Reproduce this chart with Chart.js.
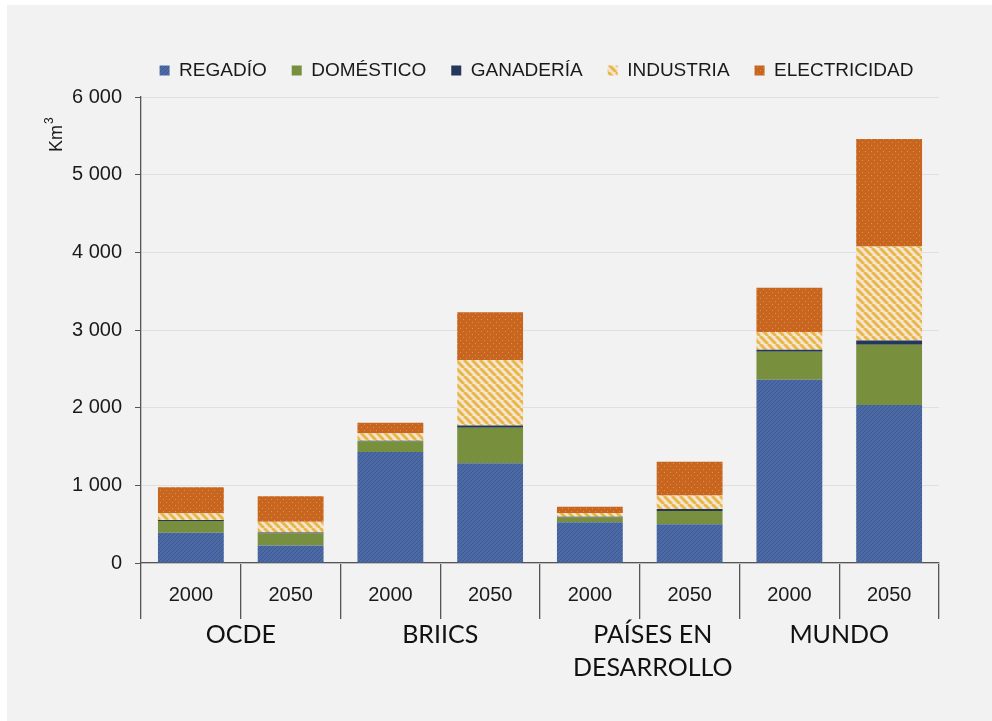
<!DOCTYPE html>
<html lang="es">
<head>
<meta charset="utf-8">
<title>Demanda de agua por sector</title>
<script src="https://cdn.jsdelivr.net/npm/chart.js@4.4.1/dist/chart.umd.min.js"></script>
<style>
  html, body { margin: 0; padding: 0; background: #fff; }
  canvas { display: block; }
</style>
</head>
<body>
<canvas id="waterChart" width="992" height="721"></canvas>
<script>
// years under each bar, regions grouping each pair of bars
const years = ["2000", "2050", "2000", "2050", "2000", "2050", "2000", "2050"];
const regions = ["OCDE", "BRIICS", ["PAÍSES EN", "DESARROLLO"], "MUNDO"];

// water demand, km3
const regadio     = [390, 225, 1430, 1285, 525, 500, 2360, 2035];
const domestico   = [150, 155, 135, 455, 60, 170, 360, 775];
const ganaderia   = [15, 12, 10, 30, 10, 25, 25, 55];
const industria   = [85, 138, 95, 845, 50, 175, 230, 1210];
const electricidad = [335, 330, 135, 615, 80, 435, 570, 1385];

const yTicks = [0, 1000, 2000, 3000, 4000, 5000, 6000];

Chart.defaults.font.family = "'Liberation Sans', Arial, sans-serif";
Chart.defaults.color = "#1a1a1a";

const canvas = document.getElementById("waterChart");
const ctx = canvas.getContext("2d");

function makePattern(size, draw) {
    const tile = document.createElement("canvas");
    tile.width = tile.height = size;
    draw(tile.getContext("2d"), size);
    return ctx.createPattern(tile, "repeat");
}

// fine diagonal hatch on blue
const bluePattern = makePattern(4, (g, s) => {
    g.fillStyle = "#4c6ba6";
    g.fillRect(0, 0, s, s);
    g.strokeStyle = "rgba(35, 55, 105, 0.35)";
    g.lineWidth = 1;
    g.beginPath();
    for (const k of [-s, 0, s]) {
        g.moveTo(k, s);
        g.lineTo(k + s, 0);
    }
    g.stroke();
});

// light beige with gold stripes
const stripePattern = makePattern(8, (g, s) => {
    g.fillStyle = "#f3e5d1";
    g.fillRect(0, 0, s, s);
    g.strokeStyle = "#e8b748";
    g.lineWidth = 3;
    g.beginPath();
    for (const k of [-s, 0, s]) {
        g.moveTo(k, 0);
        g.lineTo(k + s, s);
    }
    g.stroke();
});

// orange with small light dots
const dotPattern = makePattern(6, (g, s) => {
    g.fillStyle = "#c8651e";
    g.fillRect(0, 0, s, s);
    g.fillStyle = "rgba(240, 170, 110, 0.6)";
    g.fillRect(1, 1, 1, 1);
    g.fillRect(4, 4, 1, 1);
});

const thousands = v => String(v).replace(/\B(?=(\d{3})+(?!\d))/g, " ");

const background = {
    id: "background",
    beforeDraw(chart) {
        const c = chart.ctx;
        c.save();
        c.fillStyle = "#ffffff";
        c.fillRect(0, 0, chart.width, chart.height);
        c.fillStyle = "#f2f2f2";
        c.fillRect(7, 5, chart.width - 7, chart.height - 5);
        c.restore();
    }
};

// fixed legend band above the plot, centred a little right of the canvas middle
const legendBand = {
    id: "legendBand",
    beforeInit(chart) {
        const fit = chart.legend.fit;
        chart.legend.fit = function () {
            fit.call(this);
            this.height = 61;
        };
    },
    afterLayout(chart) {
        chart.legend.left = 134;
        chart.legend.right = chart.chartArea.right;
    }
};

const extraLabels = {
    id: "extraLabels",
    afterDraw(chart) {
        const c = chart.ctx;
        const x = chart.scales.x;
        const area = chart.chartArea;
        const nudge = { 2: 13 };
        c.save();
        c.fillStyle = "#111";
        c.textAlign = "center";
        c.textBaseline = "middle";
        c.font = "25px Lato";
        regions.forEach((name, i) => {
            const cx = (x.getPixelForValue(2 * i) + x.getPixelForValue(2 * i + 1)) / 2 + (nudge[i] || 0);
            const lines = Array.isArray(name) ? name : [name];
            lines.forEach((line, j) => c.fillText(line, cx, area.bottom + 72 + j * 33));
        });

        // y axis unit, rotated
        c.translate(57, 152);
        c.rotate(-Math.PI / 2);
        c.textAlign = "left";
        c.fillStyle = "#1a1a1a";
        c.font = "18px 'Liberation Sans'";
        c.fillText("Km", 0, 0);
        const w = c.measureText("Km").width;
        c.font = "12px 'Liberation Sans'";
        c.fillText("3", w + 1, -7);
        c.restore();
    }
};

const series = [
    { label: "REGADÍO", data: regadio, backgroundColor: bluePattern },
    { label: "DOMÉSTICO", data: domestico, backgroundColor: "#78903e" },
    { label: "GANADERÍA", data: ganaderia, backgroundColor: "#25375a" },
    { label: "INDUSTRIA", data: industria, backgroundColor: stripePattern },
    { label: "ELECTRICIDAD", data: electricidad, backgroundColor: dotPattern }
];

new Chart(canvas, {
    type: "bar",
    data: {
        labels: years,
        datasets: series.map(s => ({
            ...s,
            borderWidth: 0,
            categoryPercentage: 1,
            barPercentage: 0.66
        }))
    },
    options: {
        responsive: false,
        animation: false,
        devicePixelRatio: 1,
        layout: { padding: { top: 36, left: 0, right: 53, bottom: 0 } },
        plugins: {
            legend: {
                position: "top",
                labels: {
                    boxWidth: 10,
                    boxHeight: 10,
                    padding: 25,
                    color: "#1a1a1a",
                    font: { size: 19 }
                }
            },
            tooltip: { enabled: false }
        },
        scales: {
            x: {
                stacked: true,
                afterFit(scale) { scale.height = 158; },
                border: { color: "#555", width: 1.3 },
                grid: {
                    offset: true,
                    drawOnChartArea: false,
                    color: "#555",
                    lineWidth: 1.3,
                    tickLength: 56
                },
                ticks: {
                    autoSkip: false,
                    maxRotation: 0,
                    padding: -36,
                    color: "#1a1a1a",
                    font: { size: 20 }
                }
            },
            y: {
                stacked: true,
                min: 0,
                max: 6000,
                afterFit(scale) { scale.width = 141; },
                afterBuildTicks(scale) {
                    scale.ticks = yTicks.map(v => ({ value: v }));
                },
                border: { color: "#555", width: 1.3 },
                grid: {
                    color: "#e0e0e0",
                    tickColor: "#555",
                    tickLength: 6
                },
                ticks: {
                    padding: 13,
                    color: "#1a1a1a",
                    font: { size: 20 },
                    callback: v => thousands(v)
                }
            }
        }
    },
    plugins: [background, legendBand, extraLabels]
});
</script>
</body>
</html>
